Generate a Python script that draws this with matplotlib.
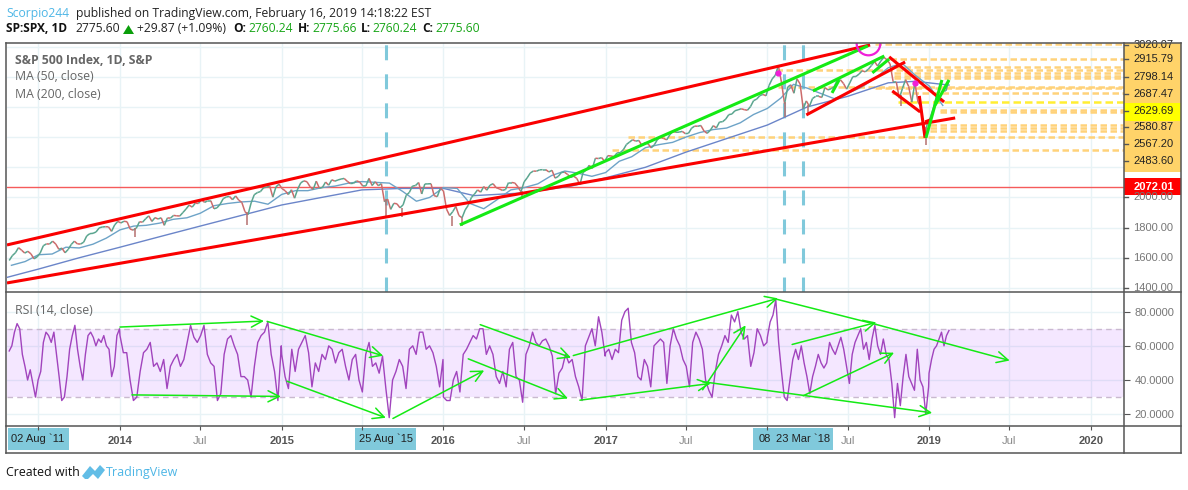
import numpy as np
import pandas as pd
import matplotlib
matplotlib.use('Agg')
import matplotlib.pyplot as plt
import matplotlib.dates as mdates
from matplotlib.collections import LineCollection
from matplotlib.lines import Line2D
from matplotlib.patches import Rectangle, Polygon

# weekly closes
close_2013 = [1582, 1614, 1633, 1667, 1650, 1631, 1643, 1626, 1593, 1606, 1632, 1680, 1692, 1691, 1710, 1691, 1656, 1664,
              1633, 1655, 1688, 1710, 1692, 1691, 1703, 1745, 1760, 1762, 1771, 1798, 1804, 1806, 1805, 1775, 1818, 1841]
close_2014 = [1831, 1842, 1839, 1790, 1783, 1797, 1839, 1836, 1859, 1878, 1841, 1866, 1857, 1865, 1815, 1864, 1863, 1881,
              1878, 1877, 1900, 1923, 1949, 1936, 1962, 1960, 1985, 1967, 1978, 1978, 1925, 1931, 1955, 1992, 2003, 2007,
              1985, 2010, 1982, 1967, 1906, 1886, 1964, 2018, 2032, 2039, 2064, 2068, 2075, 2002, 2070, 2088]
close_2015 = [2058, 2044, 2019, 2051, 1995, 2055, 2097, 2110, 2104, 2071, 2053, 2108, 2061, 2067, 2102, 2081, 2117, 2108,
              2116, 2122, 2126, 2107, 2092, 2094, 2110, 2102, 2076, 2077, 2126, 2079, 2104, 2078, 2091, 1971, 1989, 1921,
              1961, 1958, 1931, 1951, 2014, 2033, 2075, 2079, 2099, 2023, 2089, 2090, 2091, 2012, 2005, 2060, 2044]
close_2016 = [1922, 1880, 1906, 1940, 1880, 1865, 1917, 1948, 1999, 2022, 2050, 2035, 2072, 2048, 2081, 2091, 2065, 2057,
              2047, 2052, 2099, 2099, 2096, 2071, 2037, 2103, 2130, 2162, 2175, 2174, 2183, 2184, 2184, 2169, 2180, 2128,
              2139, 2165, 2168, 2153, 2133, 2141, 2126, 2085, 2164, 2182, 2213, 2192, 2260, 2258, 2264, 2239]
close_2017 = [2277, 2275, 2271, 2295, 2297, 2316, 2351, 2367, 2383, 2373, 2378, 2344, 2363, 2355, 2329, 2349, 2384, 2399,
              2391, 2382, 2416, 2439, 2432, 2433, 2438, 2423, 2425, 2459, 2473, 2472, 2477, 2441, 2425, 2444, 2476, 2461,
              2500, 2502, 2519, 2549, 2553, 2575, 2581, 2588, 2582, 2578, 2602, 2642, 2652, 2675, 2683, 2674]
close_2018 = [2743, 2786, 2810, 2873, 2762, 2620, 2732, 2747, 2691, 2786, 2752, 2588, 2640, 2604, 2656, 2670, 2670, 2663,
              2728, 2713, 2721, 2735, 2779, 2780, 2755, 2718, 2759, 2801, 2802, 2818, 2840, 2833, 2850, 2875, 2901, 2871,
              2904, 2929, 2913, 2885, 2767, 2767, 2658, 2723, 2781, 2736, 2632, 2760, 2633, 2599, 2416, 2485]
close_2019 = [2531, 2596, 2670, 2664, 2706, 2707, 2775]

# sharp lows between the weekly closes
wick_dates = ['2014-02-04', '2014-10-15', '2015-08-24', '2015-09-29', '2016-01-20', '2016-02-11', '2016-06-27', '2018-02-09',
              '2018-04-02', '2018-10-29', '2018-12-26']
wick_low = [1738, 1820, 1867, 1872, 1812, 1810, 2000, 2532, 2553, 2603, 2346]
wick_high = [1800, 1905, 1990, 1930, 1880, 1865, 2040, 2630, 2610, 2680, 2470]

ma50_dates = pd.date_range('2013-05-01', '2019-02-01', freq='MS')
ma50 = [1550, 1575, 1620, 1625, 1670, 1665, 1690, 1730, 1785, 1810, 1815, 1830, 1855, 1865, 1895, 1945, 1960, 1970, 1975,
        1955, 2020, 2045, 2045, 2065, 2075, 2095, 2105, 2100, 2095, 2040, 1975, 2000, 2065, 2060, 1960, 1925, 1985, 2050,
        2065, 2090, 2145, 2175, 2160, 2140, 2165, 2240, 2270, 2330, 2350, 2365, 2400, 2430, 2450, 2460, 2495, 2550, 2590,
        2660, 2750, 2725, 2690, 2655, 2690, 2730, 2790, 2860, 2890, 2810, 2740, 2610]

ma200_dates = ['2013-04-21', '2013-07-01', '2013-10-01', '2014-01-01', '2014-04-01', '2014-07-01', '2014-10-01',
               '2015-01-01', '2015-04-01', '2015-07-01', '2015-10-01', '2016-01-01', '2016-03-10', '2016-07-01',
               '2016-10-15', '2017-01-01', '2017-04-01', '2017-07-01', '2017-10-01', '2018-01-01', '2018-04-01',
               '2018-07-01', '2018-10-01', '2018-12-01', '2019-02-15']
ma200 = [1470, 1525, 1600, 1670, 1740, 1810, 1880, 1950, 2000, 2050, 2060, 2060, 2012, 2030, 2075, 2130, 2200, 2300, 2390,
         2480, 2600, 2670, 2760, 2770, 2745]

# rsi, roughly every 3 px, one list per year
rsi_2013 = [57, 60, 68, 73, 70, 55, 48, 40, 46, 38, 30, 40, 45, 62, 68, 66, 62, 68, 55, 42, 28, 30, 42, 58, 66, 72, 58, 48,
            40, 55, 66, 68, 65, 60, 64, 62, 66, 60, 58, 42, 48, 66, 70]
rsi_2014 = [66, 56, 56, 40, 28, 30, 45, 56, 58, 62, 48, 50, 45, 52, 35, 48, 52, 55, 48, 52, 62, 72, 65, 62, 66, 72, 55, 50,
            48, 28, 32, 55, 64, 66, 60, 55, 42, 42, 40, 30, 48, 62, 66, 68, 74, 55, 45, 28, 60]
rsi_2015 = [55, 42, 35, 58, 45, 58, 62, 66, 56, 36, 50, 45, 55, 52, 60, 58, 50, 56, 58, 48, 40, 52, 55, 40, 33, 55, 62, 48,
            50, 44, 54, 35, 18, 40, 45, 52, 48, 35, 58, 60, 55, 68, 68, 58, 60, 56, 48, 36, 52]
rsi_2016 = [30, 28, 28, 40, 45, 33, 55, 58, 62, 66, 64, 70, 70, 55, 60, 55, 42, 38, 45, 36, 58, 62, 42, 40, 27, 55, 60, 68,
            62, 60, 63, 64, 60, 54, 32, 44, 47, 55, 50, 52, 42, 36, 28, 60, 65, 70, 60, 77, 68, 54]
rsi_2017 = [56, 58, 52, 58, 56, 75, 80, 82, 62, 56, 42, 40, 52, 48, 36, 60, 62, 64, 62, 38, 60, 70, 64, 60, 52, 48, 36, 62,
            68, 64, 58, 40, 34, 30, 45, 55, 60, 66, 62, 78, 74, 80, 68, 64, 66, 48, 56, 70, 66, 60, 62]
rsi_2018 = [65, 74, 78, 87, 62, 45, 30, 28, 40, 52, 58, 52, 60, 50, 42, 32, 42, 48, 55, 50, 47, 50, 62, 58, 55, 60, 65, 58,
            48, 38, 55, 62, 66, 70, 58, 62, 52, 64, 72, 60, 55, 64, 55, 52, 38, 18, 38, 25, 42, 55, 42, 38, 34, 58, 40, 36,
            20, 36]
rsi_2019 = [44, 52, 58, 60, 64, 68, 60, 66, 69]

red_lines = [('2013-04-21', 1685, '2018-08-21', 3011), ('2013-04-21', 1433, '2019-03-01', 2527),
             ('2018-03-30', 2547, '2018-11-08', 2898), ('2018-10-03', 2932, '2019-02-04', 2633),
             ('2018-10-10', 2706, '2018-12-12', 2567), ('2018-12-10', 2673, '2018-12-23', 2395),
             ('2018-12-23', 2501, '2019-01-04', 2514)]
green_lines = [('2016-02-07', 1818, '2018-08-16', 3005), ('2018-04-14', 2706, '2018-09-22', 2938),
               ('2018-05-27', 2693, '2018-06-12', 2779), ('2018-08-26', 2826, '2018-10-03', 2918),
               ('2018-12-25', 2395, '2019-01-30', 2779), ('2019-01-15', 2613, '2019-02-15', 2779)]

level_prices = [3020, 2915.79, 2865, 2845, 2825, 2805, 2792, 2733, 2727, 2693, 2580.87, 2567.2, 2481, 2461, 2441, 2401, 2315]
level_starts = ['2018-09-01', '2018-10-05', '2018-10-15', '2018-01-20', '2018-10-15', '2018-10-15', '2018-10-15',
                '2018-01-25', '2018-09-01', '2018-10-10', '2019-01-26', '2019-01-26', '2019-01-04', '2019-01-04',
                '2019-01-04', '2017-02-21', '2017-01-16']

vline_dates = ['2015-08-25', '2018-02-08', '2018-03-23']
pink_dots = [('2018-01-25', 2826), ('2018-12-01', 2760)]

# (start date, rsi, end date, rsi, has head)
rsi_arrows = [('2014-01-01', 71, '2014-11-22', 74.5, True), ('2014-01-28', 31.3, '2014-12-30', 30.4, True),
              ('2014-11-29', 74.3, '2015-08-18', 54.2, True), ('2015-01-13', 39.3, '2015-08-24', 17.9, True),
              ('2015-09-09', 17.5, '2016-04-02', 45.6, True), ('2016-03-24', 72.4, '2016-10-15', 53.1, True),
              ('2016-02-26', 52.4, '2016-10-08', 29.2, True), ('2016-11-04', 28.2, '2017-08-26', 38, True),
              ('2016-10-20', 54.3, '2018-01-25', 87.8, True), ('2017-08-08', 34.3, '2017-11-13', 72, True),
              ('2018-01-23', 87.2, '2018-09-04', 72.5, False), ('2018-09-04', 72.5, '2019-07-02', 51.4, True),
              ('2018-02-26', 60.8, '2018-09-04', 73.7, True), ('2018-03-23', 30.8, '2018-10-14', 56, True),
              ('2017-08-08', 39, '2019-01-08', 20.8, True)]

side_labels = ['3020.07', '2915.79', '2798.14', '2687.47', '2629.69', '2580.87', '2567.20', '2483.60']
side_label_y = [3010, 2915.79, 2798.14, 2687.47, 2575, 2468, 2356, 2243]

tick_dates = ['2013-07-01', '2014-01-01', '2014-07-01', '2015-01-01', '2015-07-01', '2016-01-01', '2016-07-01',
              '2017-01-01', '2017-07-01', '2018-01-01', '2018-07-01', '2019-01-01', '2019-07-01', '2020-01-01']
tick_labels = ['', '2014', 'Jul', '2015', '', '2016', 'Jul', '2017', 'Jul', '', 'Jul', '2019', 'Jul', '2020']

W, H = 1188, 490
GRID = '#e8f3f6'
AXIS = '#555555'
TEAL = '#80c9db'
GREEN = '#14ea14'
RED = '#fa0000'
ORANGE = '#ffd27a'
FONT = 'Open Sans'
TICK_FONT = 'Liberation Sans'

def fx(x):
    return x / W

def fy(y):
    return 1 - y / H

def num(d):
    return mdates.date2num(pd.Timestamp(d))

def put(x, y, s, **kw):
    kw.setdefault('family', FONT)
    kw.setdefault('va', 'center')
    fig.text(fx(x), fy(y), s, **kw)

def panel(x0, y0, x1, y1):
    return fig.add_axes([fx(x0), fy(y1), fx(x1 - x0), (y1 - y0) / H])

def block(x0, y0, x1, y1, color):
    fig.add_artist(Rectangle((fx(x0), fy(y1)), fx(x1 - x0), (y1 - y0) / H, color=color, lw=0, transform=fig.transFigure,
                             zorder=-1))

fig = plt.figure(figsize=(W / 100, H / 100), dpi=100)
ax = panel(7, 43, 1124, 292)
ax2 = panel(7, 292, 1124, 426)
xlim = (num('2013-04-21'), num('2020-03-16'))
tick_x = [num(d) for d in tick_dates]

# price panel
close = close_2013 + close_2014 + close_2015 + close_2016 + close_2017 + close_2018 + close_2019
dates = pd.date_range('2013-04-26', periods=len(close), freq='W-FRI')
xnum = mdates.date2num(dates)
segs = [[(xnum[i], close[i]), (xnum[i + 1], close[i + 1])] for i in range(len(close) - 1)]
cols = ['#5aa58f' if close[i + 1] >= close[i] else '#cc6b6b' for i in range(len(close) - 1)]

ax.set_xlim(xlim)
ax.set_ylim(1373, 3024)
ax.set_yticks(np.arange(1400, 3001, 200))
ax.set_xticks(tick_x)
ax.grid(True, color=GRID, lw=1)
ax.set_axisbelow(True)
ax.tick_params(axis='x', length=0, labelbottom=False)
ax.tick_params(axis='y', left=False, labelleft=False, right=False, labelright=False)

for price, start in zip(level_prices, level_starts):
    ax.plot([num(start), xlim[1]], [price, price], color=ORANGE, lw=1.8, ls=(0, (2.6, 1.4)), zorder=2)
ax.plot([num('2018-10-23'), xlim[1]], [2629.69, 2629.69], color='#ffee33', lw=1.8, ls=(0, (3, 1.6)), zorder=2)
ax.axhline(2072.01, color='#f55b5b', lw=1, zorder=2)
for d in vline_dates:
    ax.axvline(num(d), color=TEAL, lw=2.2, ls=(0, (4.9, 4.6)), zorder=2)

ax.plot([num(d) for d in ma200_dates], ma200, color='#6b85c9', lw=1, zorder=3)
ax.plot(mdates.date2num(ma50_dates), ma50, color='#6da3c7', lw=1, zorder=3)
ax.add_collection(LineCollection(segs, colors=cols, linewidths=1.1, zorder=4))
ax.vlines([num(d) for d in wick_dates], wick_low, wick_high, color='#b5706f', lw=1.1, zorder=4)

for d0, p0, d1, p1 in red_lines:
    ax.plot([num(d0), num(d1)], [p0, p1], color=RED, lw=2.2, solid_capstyle='butt', zorder=6)
for d0, p0, d1, p1 in green_lines:
    ax.plot([num(d0), num(d1)], [p0, p1], color=GREEN, lw=2.2, solid_capstyle='butt', zorder=7)
for d, p in pink_dots:
    ax.plot(num(d), p, 'o', color='#f01fd8', ms=3.5, zorder=8)
ax.plot(num('2018-08-16'), 3024, 'o', mfc='none', mec='#f01fd8', ms=17, mew=1.6, zorder=8)

# rsi panel
ax2.set_xlim(xlim)
ax2.set_ylim(13.1, 91.5)
ax2.set_yticks([20, 40, 60, 80])
ax2.set_xticks(tick_x)
ax2.grid(True, color=GRID, lw=1)
ax2.set_axisbelow(True)
ax2.set_xticklabels([])
ax2.tick_params(axis='x', length=3, color=AXIS)
ax2.tick_params(axis='y', left=False, labelleft=False, right=True, labelright=True, length=4, color=AXIS,
                labelcolor='#777777', labelsize=8)
ax2.set_yticklabels(['20.0000', '40.0000', '60.0000', '80.0000'], family=TICK_FONT)
ax2.axhspan(30, 70, color='#9915ff', alpha=0.1, lw=0, zorder=1)
for level in (30, 70):
    ax2.axhline(level, color='#c9b9cf', lw=1, ls=(0, (4, 3)), zorder=2)

years = [(rsi_2013, '2013-04-26', '2013-12-31'), (rsi_2014, '2014-01-01', '2014-12-31'), (rsi_2015, '2015-01-01', '2015-12-31'),
         (rsi_2016, '2016-01-01', '2016-12-31'), (rsi_2017, '2017-01-01', '2017-12-31'), (rsi_2018, '2018-01-01', '2018-12-31'),
         (rsi_2019, '2019-01-01', '2019-02-15')]
rsi_x, rsi_y = [], []
for vals, d0, d1 in years:
    rsi_x.extend(mdates.date2num(pd.date_range(d0, d1, periods=len(vals))))
    rsi_y.extend(vals)
ax2.plot(rsi_x, rsi_y, color='#a144bd', lw=1, zorder=3)

for d0, r0, d1, r1, head in rsi_arrows:
    style = '->,head_length=0.8,head_width=0.4' if head else '-'
    ax2.annotate('', xy=(num(d1), r1), xytext=(num(d0), r0), zorder=6,
                 arrowprops=dict(arrowstyle=style, color=GREEN, lw=1.1, shrinkA=0, shrinkB=0, mutation_scale=10))

for a in (ax, ax2):
    for s in a.spines.values():
        s.set_visible(False)

# price scale on the right
trans = ax.get_yaxis_transform()
block(1124, 43, 1181, 172, '#ffd369')
block(1124, 103, 1181, 121, '#ffff00')
block(1124, 178, 1181, 195, '#ff0000')
for t in [1400, 1600, 1800, 2000]:
    ax.text(1.0083, t, f'{t}.00', transform=trans, va='center', ha='left', color='#777777', family=TICK_FONT, fontsize=8,
            clip_on=False)
    ax.plot([1, 1.0036], [t, t], transform=trans, color=AXIS, lw=1, clip_on=False)
for s, y in zip(side_labels, side_label_y):
    ax.text(1.0083, y, s, transform=trans, va='center', ha='left', color='#222222', family=TICK_FONT, fontsize=8,
            clip_on=False, zorder=20)
    ax.plot([1, 1.0036], [y, y], transform=trans, color=AXIS, lw=1, clip_on=False, zorder=20)
ax.text(1.0083, 2072.01, '2072.01', transform=trans, va='center', ha='left', color='white', weight='bold', family=TICK_FONT,
        fontsize=8, clip_on=False, zorder=20)

# time axis labels
for d, s in zip(tick_x, tick_labels):
    if s:
        bold = s != 'Jul'
        ax2.text(d, -0.11, s, transform=ax2.get_xaxis_transform(), ha='center', va='center', family=TICK_FONT, fontsize=8,
                 color='#555555' if bold else '#888888', weight='bold' if bold else 'normal')

for x0, x1 in [(8, 69), (355, 416), (753, 833)]:
    block(x0, 428, x1, 450, TEAL)
for x, s in [(38, "02 Aug `11"), (386, "25 Aug `15"), (765, '08'), (803, "23 Mar `18")]:
    put(x, 439, s, ha='center', family=TICK_FONT, fontsize=8, color='#222222')

# frame
for x0, y0, x1, y1 in [(6, 43, 1181, 43), (6, 453, 1181, 453), (6, 43, 6, 453), (1181, 43, 1181, 453), (1124, 43, 1124, 453),
                       (6, 292, 1181, 292), (6, 426, 1181, 426)]:
    fig.add_artist(Line2D([fx(x0), fx(x1)], [fy(y0), fy(y1)], color=AXIS, lw=1.1, transform=fig.transFigure))

# header
put(6, 13, 'Scorpio244', color='#4db6e6', fontsize=8.75)
put(76, 13, 'published on TradingView.com, February 16, 2019 14:18:22 EST', color='#222222', fontsize=8.75)
put(6, 29, 'SP:SPX, 1D', color='#111111', weight='bold', fontsize=8.6)
put(75, 29, '2775.60', color='#222222', fontsize=8.7)
fig.add_artist(Polygon([(fx(123), fy(34)), (fx(134), fy(34)), (fx(128.5), fy(25))], color='#0a9e0a', lw=0,
                       transform=fig.transFigure))
put(137, 29, '+29.87 (+1.09%)', color='#222222', fontsize=8.7)
for x, s in [(233, 'O:'), (298, 'H:'), (361, 'L:'), (422, 'C:')]:
    put(x, 29, s, color='#111111', weight='bold', fontsize=8.6)
for x, s in [(248, '2760.24'), (312, '2775.66'), (372, '2760.24'), (435, '2775.60')]:
    put(x, 29, s, color='#16a516', fontsize=8.7)

put(15, 60, 'S&P 500 Index, 1D, S&P', color='#666666', weight='bold', fontsize=8.8)
put(15, 77, 'MA (50, close)', color='#666666', fontsize=8.8)
put(15, 95, 'MA (200, close)', color='#666666', fontsize=8.8)
put(15, 310, 'RSI (14, close)', color='#666666', fontsize=8.8)

# footer
put(6, 472, 'Created with', color='#111111', fontsize=8.9)
logo = [(82, 476), (90, 466), (95, 471), (100, 465), (105, 470), (98, 479), (93, 474), (88, 479), (85, 479)]
fig.add_artist(Polygon([(fx(x), fy(y)) for x, y in logo], color='#62bde6', lw=0, transform=fig.transFigure))
put(106, 472, 'TradingView', color='#4db6e6', fontsize=9)

fig.savefig('out.png', dpi=100)
